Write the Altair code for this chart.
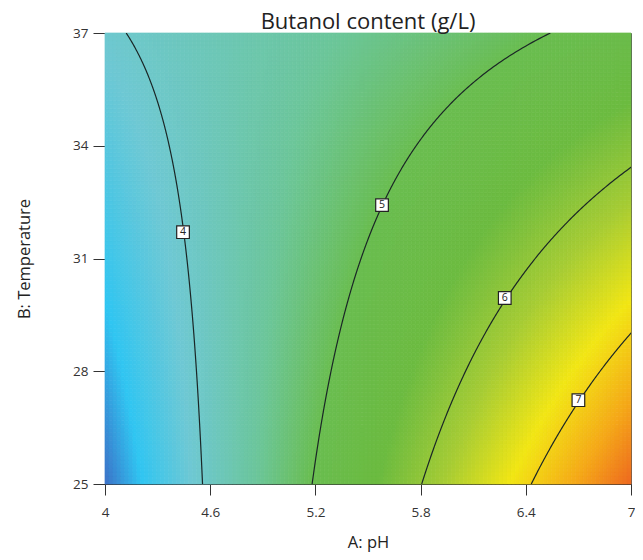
import altair as alt
import numpy as np
import pandas as pd

# ---- values ----
title_text = "Butanol content (g/L)"
x_title = "A: pH"
y_title = "B: Temperature"
x_ticks = [4, 4.6, 5.2, 5.8, 6.4, 7]
y_ticks = [25, 28, 31, 34, 37]
ph_range = [4.0, 7.0]
temp_range = [25.0, 37.0]

# coded response-surface model (A, B coded to [-1, 1]), estimated from contour positions
coef_intercept = 5.04
coef_A = 1.51
coef_B = -0.47
coef_AB = -0.89

contour_levels = [4, 5, 6, 7]
label_ph = [4.445, 5.58, 6.28, 6.70]
label_temp = [31.70, 32.42, 29.95, 27.23]

color_stop_values = [3.1, 3.45, 3.9, 4.5, 5.0, 5.6, 6.2, 6.8, 7.4, 7.9]
color_stop_hex = ["#3d6ec6", "#30c6f2", "#6ec8d4", "#6cc69a", "#6abd50",
                  "#6cbb40", "#a6cc34", "#f2e614", "#f5a818", "#ee6a20"]

# ---- build tables ----
def code_a(A):
    return (A - 5.5) / 1.5

def code_b(B):
    return (B - 31.0) / 6.0

def model(A, B):
    a, b = code_a(A), code_b(B)
    return coef_intercept + coef_A * a + coef_B * b + coef_AB * a * b

nx, ny = 132, 113
xe = np.linspace(ph_range[0], ph_range[1], nx + 1)
ye = np.linspace(temp_range[0], temp_range[1], ny + 1)
rows = []
for i in range(nx):
    for j in range(ny):
        xc = 0.5 * (xe[i] + xe[i + 1])
        yc = 0.5 * (ye[j] + ye[j + 1])
        rows.append((round(xe[i], 4), round(xe[i + 1], 4), round(ye[j], 4), round(ye[j + 1], 4), round(float(model(xc, yc)), 3)))
grid_df = pd.DataFrame(rows, columns=["x0", "x1", "y0", "y1", "z"])

line_rows = []
bvals = np.linspace(-1.0, 1.0, 241)
for lev in contour_levels:
    for k, b in enumerate(bvals):
        a = (lev - coef_intercept - coef_B * b) / (coef_A + coef_AB * b)
        A = 5.5 + 1.5 * a
        B = 31.0 + 6.0 * b
        line_rows.append((lev, k, A, B))
line_df = pd.DataFrame(line_rows, columns=["level", "idx", "ph", "temp"])

label_df = pd.DataFrame({"ph": label_ph, "temp": label_temp, "txt": [str(v) for v in contour_levels]})

# ---- chart ----
FONT = "Open Sans"
W, H = 526, 451
xscale = alt.Scale(domain=ph_range, nice=False, zero=False)
yscale = alt.Scale(domain=temp_range, nice=False, zero=False)
cscale = alt.Scale(domain=color_stop_values, range=color_stop_hex, interpolate="rgb", clamp=True)

xaxis = alt.Axis(values=x_ticks, format="~g", title=x_title, grid=False, tickSize=11, labelPadding=10,
                 labelFontSize=13.5, labelFont=FONT, labelColor="#333", domainColor="#333",
                 tickColor="#333", titleFont=FONT, titleFontSize=16.5, titleFontWeight="normal",
                 titleColor="#222", titleY=58, titleBaseline="middle", labelFlush=False)
yaxis = alt.Axis(values=y_ticks, format="~g", title=y_title, grid=False, tickSize=12, labelPadding=5,
                 labelFontSize=13.5, labelFont=FONT, labelColor="#333", domainColor="#333",
                 tickColor="#333", titleFont=FONT, titleFontSize=16.5, titleFontWeight="normal",
                 titleColor="#222", titleX=-81, titleY=H / 2, titleAngle=270,
                 titleBaseline="middle", titleAlign="center")

heat = alt.Chart(grid_df).mark_rect(strokeWidth=0.7).encode(
    x=alt.X("x0:Q", scale=xscale, axis=xaxis),
    x2="x1:Q",
    y=alt.Y("y0:Q", scale=yscale, axis=yaxis),
    y2="y1:Q",
    color=alt.Color("z:Q", scale=cscale, legend=None),
    stroke=alt.Stroke("z:Q", scale=cscale, legend=None),
)

lines = alt.Chart(line_df).mark_line(clip=True, color="#1a2626", strokeWidth=1.2).encode(
    x=alt.X("ph:Q", scale=xscale),
    y=alt.Y("temp:Q", scale=yscale),
    detail="level:N",
    order="idx:Q",
)

boxes = alt.Chart(label_df).mark_point(shape="square", size=160, filled=True, fill="white",
                                       stroke="#222", strokeWidth=1.2, opacity=1).encode(
    x=alt.X("ph:Q", scale=xscale),
    y=alt.Y("temp:Q", scale=yscale),
)

texts = alt.Chart(label_df).mark_text(font=FONT, fontSize=10.5, color="#222", baseline="middle", align="center").encode(
    x=alt.X("ph:Q", scale=xscale),
    y=alt.Y("temp:Q", scale=yscale),
    text="txt:N",
)

chart = alt.layer(heat, lines, boxes, texts).properties(
    width=W,
    height=H,
    title=alt.TitleParams(title_text, font=FONT, fontSize=22, fontWeight="normal", color="#222",
                          anchor="middle", offset=-8),
    autosize=alt.AutoSizeParams(type="none"),
    padding={"left": 97, "top": 25, "right": 4, "bottom": 68},
).configure_view(stroke="#555", strokeWidth=1)

chart.save("out.html", embed_options={"renderer": "svg", "actions": False})
